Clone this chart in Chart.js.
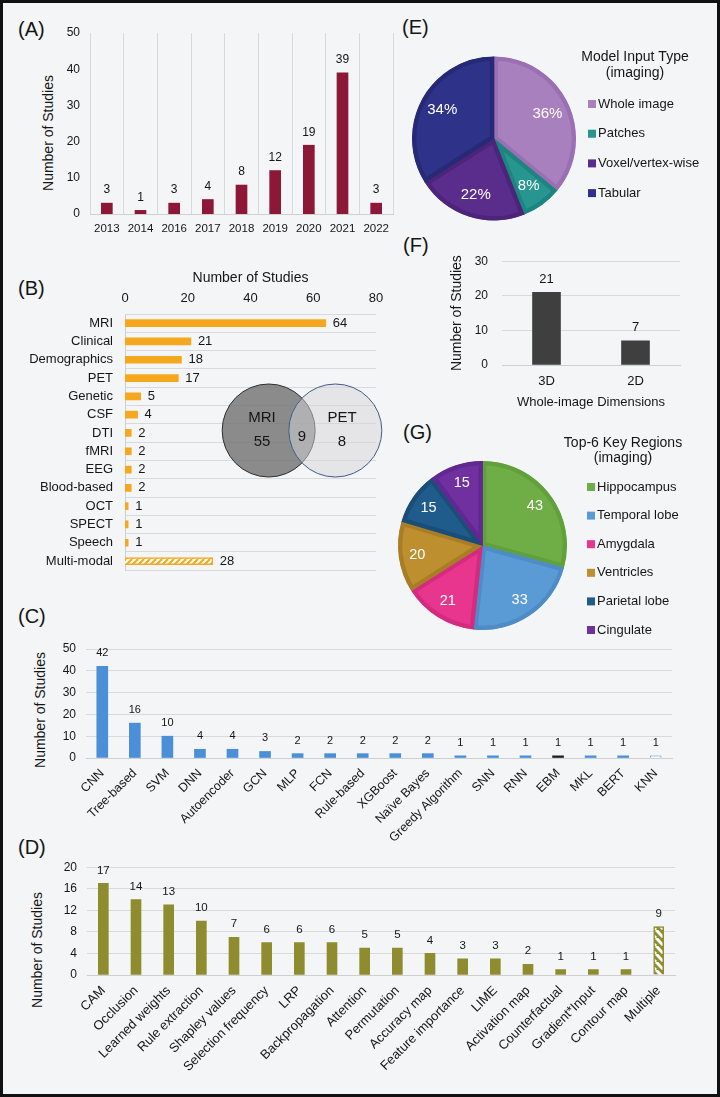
<!DOCTYPE html>
<html>
<head>
<meta charset="utf-8">
<script src="https://cdn.jsdelivr.net/npm/chart.js@4.4.1/dist/chart.umd.min.js"></script>
<style>
html, body { margin: 0; padding: 0; background: #fff; }
#fig { position: relative; width: 720px; height: 1097px; background: #f4f5f7; overflow: hidden;
       font-family: "Liberation Sans", Arial, Helvetica, sans-serif; color: #151515; }
#frame { position: absolute; left: 0; top: 0; width: 720px; height: 1097px; box-sizing: border-box;
         border: 3px solid #111; pointer-events: none; z-index: 10; }
canvas { position: absolute; }
.tag { position: absolute; font-size: 20px; line-height: 22px; }
.ytitle { position: absolute; font-size: 14px; white-space: nowrap; transform: translate(-50%, -50%) rotate(-90deg); }
</style>
</head>
<body>
<div id="fig">
  <div class="tag" style="left:18px;top:18px">(A)</div>
  <div class="tag" style="left:18px;top:277px">(B)</div>
  <div class="tag" style="left:18px;top:605px">(C)</div>
  <div class="tag" style="left:18px;top:836px">(D)</div>
  <div class="tag" style="left:402px;top:16px">(E)</div>
  <div class="tag" style="left:403px;top:234px">(F)</div>
  <div class="tag" style="left:403px;top:421px">(G)</div>
  <div class="ytitle" style="left:48px;top:133px">Number of Studies</div>
  <div class="ytitle" style="left:40px;top:710px">Number of Studies</div>
  <div class="ytitle" style="left:37px;top:950px">Number of Studies</div>
  <div id="frame"></div>
</div>
<script>
// (A) studies per year
const yearLabels = ['2013', '2014', '2016', '2017', '2018', '2019', '2020', '2021', '2022'];
const yearCounts = [3, 1, 3, 4, 8, 12, 19, 39, 3];

// (B) input modalities + MRI/PET overlap
const modalityLabels = ['MRI', 'Clinical', 'Demographics', 'PET', 'Genetic', 'CSF', 'DTI', 'fMRI', 'EEG',
  'Blood-based', 'OCT', 'SPECT', 'Speech', 'Multi-modal'];
const modalityCounts = [64, 21, 18, 17, 5, 4, 2, 2, 2, 2, 1, 1, 1, 28];
const vennSets = ['MRI', 'PET'];
const vennOnly = [55, 8];
const vennShared = 9;

// (C) model types
const modelLabels = ['CNN', 'Tree-based', 'SVM', 'DNN', 'Autoencoder', 'GCN', 'MLP', 'FCN', 'Rule-based',
  'XGBoost', 'Naïve Bayes', 'Greedy Algorithm', 'SNN', 'RNN', 'EBM', 'MKL', 'BERT', 'KNN'];
const modelCounts = [42, 16, 10, 4, 4, 3, 2, 2, 2, 2, 2, 1, 1, 1, 1, 1, 1, 1];

// (D) explanation methods
const xaiLabels = ['CAM', 'Occlusion', 'Learned weights', 'Rule extraction', 'Shapley values',
  'Selection frequency', 'LRP', 'Backpropagation', 'Attention', 'Permutation', 'Accuracy map',
  'Feature importance', 'LIME', 'Activation map', 'Counterfactual', 'Gradient*Input', 'Contour map', 'Multiple'];
const xaiCounts = [17, 14, 13, 10, 7, 6, 6, 6, 5, 5, 4, 3, 3, 2, 1, 1, 1, 9];

// (E) model input type
const inputLabels = ['Whole image', 'Patches', 'Voxel/vertex-wise', 'Tabular'];
const inputShares = [36, 8, 22, 34];

// (F) whole-image dimensions
const dimLabels = ['3D', '2D'];
const dimCounts = [21, 7];

// (G) key regions
const regionLabels = ['Hippocampus', 'Temporal lobe', 'Amygdala', 'Ventricles', 'Parietal lobe', 'Cingulate'];
const regionCounts = [43, 33, 21, 20, 15, 15];

const FONT = '"Liberation Sans", Arial, Helvetica, sans-serif';
const INK = '#151515';
const GRID = '#d9d9d9';
Chart.defaults.font.family = FONT;
Chart.defaults.color = INK;
Chart.defaults.animation = false;
Chart.defaults.responsive = false;
Chart.defaults.plugins.legend.display = false;
Chart.defaults.plugins.tooltip.enabled = false;

function makeCanvas(left, top, w, h) {
  const c = document.createElement('canvas');
  c.width = w; c.height = h;
  c.style.left = left + 'px'; c.style.top = top + 'px';
  c.style.width = w + 'px'; c.style.height = h + 'px';
  document.getElementById('fig').insertBefore(c, document.getElementById('frame'));
  return c.getContext('2d');
}

function hatch(fg, bg, size, width, dir) {
  const c = document.createElement('canvas');
  c.width = size; c.height = size;
  const g = c.getContext('2d');
  g.fillStyle = bg; g.fillRect(0, 0, size, size);
  g.strokeStyle = fg; g.lineWidth = width;
  g.beginPath();
  for (let k = -1; k <= 1; k++) {
    if (dir > 0) { g.moveTo(k * size, size); g.lineTo(k * size + size, 0); }
    else { g.moveTo(k * size, 0); g.lineTo(k * size + size, size); }
  }
  g.stroke();
  return g.createPattern(c, 'repeat');
}

// numbers printed above / beside the bars
const valueLabels = {
  id: 'valueLabels',
  afterDatasetsDraw(chart, args, o) {
    const ctx = chart.ctx;
    const data = chart.data.datasets[0].data;
    ctx.save();
    ctx.font = o.size + 'px ' + FONT;
    ctx.fillStyle = INK;
    ctx.textBaseline = 'middle';
    chart.getDatasetMeta(0).data.forEach((bar, i) => {
      if (o.horizontal) {
        ctx.textAlign = 'left';
        ctx.fillText(data[i], bar.x + o.gap, bar.y);
      } else {
        ctx.textAlign = 'center';
        ctx.fillText(data[i], bar.x, bar.y - o.gap);
      }
    });
    ctx.restore();
  }
};

// white numbers inside pie slices
const sliceLabels = {
  id: 'sliceLabels',
  afterDatasetsDraw(chart, args, o) {
    const ctx = chart.ctx;
    const data = chart.data.datasets[0].data;
    ctx.save();
    ctx.font = o.size + 'px ' + FONT;
    ctx.fillStyle = '#fff';
    ctx.textAlign = 'center';
    ctx.textBaseline = 'middle';
    chart.getDatasetMeta(0).data.forEach((arc, i) => {
      const p = arc.getProps(['x', 'y', 'startAngle', 'endAngle', 'outerRadius']);
      const a = (p.startAngle + p.endAngle) / 2;
      const r = p.outerRadius * o.at;
      ctx.fillText(data[i] + (o.suffix || ''), p.x + Math.cos(a) * r, p.y + Math.sin(a) * r);
    });
    ctx.restore();
  }
};

// square-marker legend with a two line title
const boxLegend = {
  id: 'boxLegend',
  afterDraw(chart, args, o) {
    const ctx = chart.ctx;
    const ds = chart.data.datasets[0];
    ctx.save();
    ctx.fillStyle = INK;
    ctx.textAlign = 'center';
    ctx.textBaseline = 'middle';
    ctx.font = '14px ' + FONT;
    o.title.forEach((t, k) => ctx.fillText(t, o.titleX, o.titleY + k * o.titleStep));
    ctx.font = '13px ' + FONT;
    ctx.textAlign = 'left';
    chart.data.labels.forEach((lab, i) => {
      const y = o.y + i * o.step;
      ctx.fillStyle = ds.backgroundColor[i];
      ctx.fillRect(o.boxX, y - 4, 8, 8);
      ctx.fillStyle = INK;
      ctx.fillText(lab, o.boxX + 10, y);
    });
    ctx.restore();
  }
};

// vertical bar chart placed so that its plot area is exactly `area`
function columns(box, area, labels, values, o) {
  const ctx = makeCanvas(box[0], box[1], box[2], box[3]);
  return new Chart(ctx, {
    type: 'bar',
    data: {
      labels: labels,
      datasets: [{
        data: values,
        backgroundColor: o.colors,
        borderColor: o.borderColors || 'rgba(0,0,0,0)',
        borderWidth: o.borderWidths || 0,
        barThickness: o.barW
      }]
    },
    options: {
      layout: { padding: { left: 0, top: area[1] - box[1], right: box[0] + box[2] - area[2], bottom: 0 } },
      scales: {
        x: {
          grid: { display: !!o.vGrid, color: GRID, drawTicks: false },
          border: { display: true, color: '#cfcfcf' },
          ticks: { font: { size: o.xFont }, padding: o.xPad, minRotation: o.rot || 0, maxRotation: o.rot || 0, autoSkip: false },
          title: o.xTitle ? { display: true, text: o.xTitle, font: { size: 13 }, padding: { top: 0, bottom: 5 } } : { display: false },
          afterFit: s => { s.height = box[1] + box[3] - area[3]; }
        },
        y: {
          min: 0, max: o.max,
          ticks: { stepSize: o.step, padding: o.yPad, font: { size: 12 } },
          grid: { display: !o.vGrid, color: GRID, drawTicks: false },
          border: { display: false },
          title: o.yTitle ? { display: true, text: o.yTitle, font: { size: 14 }, padding: { top: o.yTitlePad } } : { display: false },
          afterFit: s => { s.width = area[0] - box[0]; }
        }
      },
      plugins: { valueLabels: { size: o.valSize, gap: 13 } }
    },
    plugins: [valueLabels]
  });
}

// (A)
columns([20, 10, 380, 240], [90, 33, 393, 214], yearLabels, yearCounts, {
  colors: '#8c1736', barW: 11, max: 50, step: 10, yPad: 10, xFont: 11.5, xPad: 8, vGrid: true, valSize: 12
});

// (B)
const ORANGE = '#f5a81e';
const ctxB = makeCanvas(0, 265, 400, 325);
new Chart(ctxB, {
  type: 'bar',
  data: {
    labels: modalityLabels,
    datasets: [{
      data: modalityCounts,
      backgroundColor: modalityLabels.map((l, i) => i === modalityLabels.length - 1 ? hatch(ORANGE, '#ffffff', 6, 2, 1) : ORANGE),
      borderColor: ORANGE,
      borderWidth: modalityLabels.map((l, i) => i === modalityLabels.length - 1 ? 1.5 : 0),
      barThickness: 7
    }]
  },
  options: {
    indexAxis: 'y',
    layout: { padding: { left: 0, top: 0, right: 24, bottom: 8 } },
    scales: {
      x: {
        position: 'top', min: 0, max: 80,
        ticks: { stepSize: 20, padding: 8, font: { size: 13 } },
        grid: { display: false, drawTicks: false },
        border: { display: false },
        title: { display: true, text: 'Number of Studies', font: { size: 14 }, padding: { top: 4.6, bottom: 0 } },
        afterFit: s => { s.height = 49; }
      },
      y: {
        ticks: { padding: 12, font: { size: 13 }, autoSkip: false },
        grid: { color: GRID, drawTicks: false },
        border: { display: true, color: '#cfcfcf' },
        afterFit: s => { s.width = 125; }
      }
    },
    plugins: { valueLabels: { horizontal: true, gap: 7, size: 13 } }
  },
  plugins: [valueLabels]
});

// MRI / PET overlap drawn as two bubbles on hidden axes
const vennText = {
  id: 'vennText',
  afterDatasetsDraw(chart) {
    const ctx = chart.ctx;
    const sx = chart.scales.x, sy = chart.scales.y;
    const yc = sy.getPixelForValue(1);
    ctx.save();
    ctx.font = '15px ' + FONT;
    ctx.fillStyle = INK;
    ctx.textAlign = 'center';
    ctx.textBaseline = 'middle';
    vennSets.forEach((name, i) => {
      const x = sx.getPixelForValue(i === 0 ? -0.1 : 1.1);
      ctx.fillText(name, x, yc - 12.5);
      ctx.fillText(vennOnly[i], x, yc + 11.5);
    });
    ctx.fillText(vennShared, sx.getPixelForValue(0.5), yc + 6.5);
    ctx.restore();
  }
};
const ctxV = makeCanvas(202, 370, 200, 121);
new Chart(ctxV, {
  type: 'bubble',
  data: {
    datasets: [{
      data: vennSets.map((s, i) => ({ x: i, y: 1, r: 46.5 })),
      backgroundColor: ['rgba(112,112,112,0.8)', 'rgba(214,214,218,0.5)'],
      borderColor: ['#2e2e2e', '#41598a'],
      borderWidth: 1,
      clip: false
    }]
  },
  options: {
    layout: { padding: 0, autoPadding: false },
    scales: { x: { display: false, min: -1, max: 2 }, y: { display: false, min: 0, max: 2 } }
  },
  plugins: [vennText]
});

// (C)
const BLUE = '#4a8fd7';
columns([0, 630, 700, 230], [86, 649, 672, 758], modelLabels, modelCounts, {
  colors: modelLabels.map(l => l === 'EBM' ? '#1f1f1f' : l === 'KNN' ? '#ffffff' : BLUE),
  borderColors: BLUE,
  borderWidths: modelLabels.map(l => l === 'KNN' ? 1 : 0),
  barW: 11, max: 50, step: 10, yPad: 10, xFont: 12.5, xPad: 8, rot: 45, valSize: 11
});

// (D)
const OLIVE = '#8e8c2f';
columns([0, 850, 700, 247], [87, 866, 675, 975], xaiLabels, xaiCounts, {
  colors: xaiLabels.map(l => l === 'Multiple' ? hatch('#ffffff', OLIVE, 8, 3, -1) : OLIVE),
  borderColors: OLIVE,
  borderWidths: xaiLabels.map(l => l === 'Multiple' ? 1.5 : 0),
  barW: 10, max: 20, step: 4, yPad: 10, xFont: 13, xPad: 8, rot: 45, valSize: 11.5
});

// (F)
columns([440, 240, 260, 175], [502, 252, 680, 365], dimLabels, dimCounts, {
  colors: '#3f3f3f', barW: 28, max: 30, step: 10, yPad: 14, xFont: 13, xPad: 9,
  valSize: 13, xTitle: 'Whole-image Dimensions', yTitle: 'Number of Studies', yTitlePad: 8.6
});

// (E)
const ctxE = makeCanvas(400, 20, 315, 215);
new Chart(ctxE, {
  type: 'pie',
  data: {
    labels: inputLabels,
    datasets: [{
      data: inputShares,
      backgroundColor: ['#a880be', '#279690', '#5a2d8c', '#2e3288'],
      borderColor: ['#9a6fb3', '#1d8580', '#4c2479', '#262a76'],
      borderWidth: 4,
      borderAlign: 'inner',
      hoverOffset: 0,
      radius: 82
    }]
  },
  options: {
    layout: { padding: { left: 0, top: 24.5, right: 127, bottom: 2.5 } },
    plugins: {
      sliceLabels: { size: 15, at: 0.72, suffix: '%' },
      boxLegend: { title: ['Model Input Type', '(imaging)'], titleX: 235, titleY: 37, titleStep: 16,
                   boxX: 188, y: 84, step: 29.7 }
    }
  },
  plugins: [sliceLabels, boxLegend]
});

// (G)
const ctxG = makeCanvas(390, 420, 325, 225);
new Chart(ctxG, {
  type: 'pie',
  data: {
    labels: regionLabels,
    datasets: [{
      data: regionCounts,
      backgroundColor: ['#6fad47', '#5b9bd5', '#e8358d', '#bd8f2e', '#1f5c8c', '#7030a0'],
      borderColor: ['#61a03a', '#4e8cc6', '#d42a7f', '#a87d25', '#1a4e79', '#612890'],
      borderWidth: 4,
      borderAlign: 'inner',
      hoverOffset: 0,
      radius: 84.5
    }]
  },
  options: {
    layout: { padding: { left: 0, top: 33, right: 140, bottom: 7 } },
    plugins: {
      sliceLabels: { size: 14.5, at: 0.78 },
      boxLegend: { title: ['Top-6 Key Regions', '(imaging)'], titleX: 233, titleY: 23, titleStep: 15,
                   boxX: 197, y: 67, step: 28.6 }
    }
  },
  plugins: [sliceLabels, boxLegend]
});
</script>
</body>
</html>
